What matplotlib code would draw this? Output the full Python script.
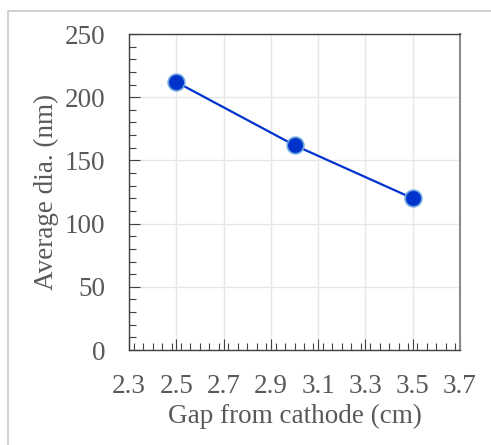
import matplotlib
matplotlib.use("Agg")
import matplotlib.pyplot as plt
from matplotlib.ticker import MultipleLocator
from matplotlib.patches import Rectangle

gap_cm = [2.5, 3.0, 3.5]
avg_dia_nm = [212, 162, 120]
x_ticks = [2.3, 2.5, 2.7, 2.9, 3.1, 3.3, 3.5, 3.7]
y_ticks = [0, 50, 100, 150, 200, 250]

plt.rcParams["font.family"] = ["Liberation Serif", "DejaVu Serif"]
text_color = "#595959"

fig = plt.figure(figsize=(4.91, 4.45), dpi=100)
# light outer frame
fig.patches.append(Rectangle((8 / 491, -0.1), 1.2, 1 - 11 / 445 + 0.1,
                             transform=fig.transFigure, fill=False,
                             edgecolor="#c8c8c8", linewidth=1.2))

ax = fig.add_axes([129 / 491, 1 - 350 / 445, (460 - 129) / 491, (350 - 34) / 445])

ax.plot(gap_cm, avg_dia_nm, color="#0033cc", linewidth=1.6, marker="o",
        markersize=12, markerfacecolor="#0033cc", markeredgecolor="#6fa8e0",
        markeredgewidth=1.2, zorder=3)

ax.set_xlim(2.3, 3.7)
ax.set_ylim(0, 250)
ax.set_xticks(x_ticks)
ax.set_xticklabels([f"{v:.1f}" for v in x_ticks])
ax.set_yticks(y_ticks)
ax.xaxis.set_minor_locator(MultipleLocator(0.04))
ax.yaxis.set_minor_locator(MultipleLocator(10))

ax.grid(True, which="major", color="#e6e6e6", linewidth=1)
ax.set_axisbelow(True)

ax.tick_params(which="both", direction="in", colors="#404040", labelcolor=text_color,
               labelsize=19.5, top=False, right=False)
ax.tick_params(which="major", length=8, width=0.8)
ax.tick_params(which="minor", length=5, width=0.8)
ax.tick_params(axis="x", pad=17)
ax.tick_params(axis="y", pad=17)

for side in ["top", "left", "bottom"]:
    ax.spines[side].set_color("#404040")
    ax.spines[side].set_linewidth(1)
ax.spines["right"].set_color("#8c8c8c")
ax.spines["right"].set_linewidth(1.5)

ax.set_xlabel("Gap from cathode (cm)", fontsize=19.5, color=text_color, labelpad=4)
ax.set_ylabel("Average dia. (nm)", fontsize=19.5, color=text_color, labelpad=4)

fig.savefig("out.png", dpi=100)
